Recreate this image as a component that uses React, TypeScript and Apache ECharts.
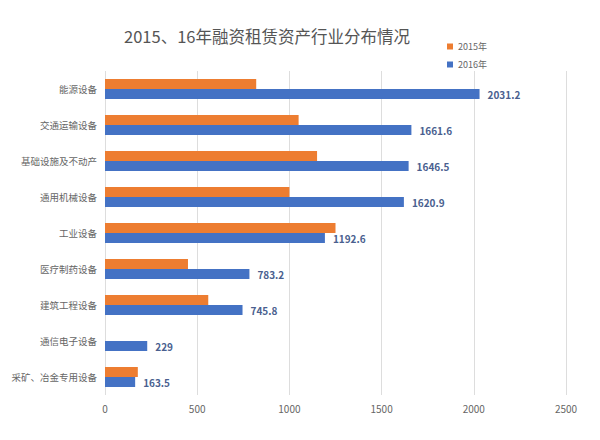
import React, { useEffect, useRef } from "react";
import * as echarts from "echarts";

const categories = [
  "能源设备",
  "交通运输设备",
  "基础设施及不动产",
  "通用机械设备",
  "工业设备",
  "医疗制药设备",
  "建筑工程设备",
  "通信电子设备",
  "采矿、冶金专用设备",
];
const values2015: (number | null)[] = [820, 1050, 1150, 1000, 1250, 450, 560, null, 178];
const values2016 = [2031.2, 1661.6, 1646.5, 1620.9, 1192.6, 783.2, 745.8, 229, 163.5];
const xTicks = [0, 500, 1000, 1500, 2000, 2500];

const FONT = "'Noto Sans CJK SC', 'Noto Sans', sans-serif";

export default function App() {
  const ref = useRef<HTMLDivElement>(null);
  useEffect(() => {
    if (!ref.current) return;
    const chart = echarts.init(ref.current, null, { renderer: "svg" });
    chart.setOption({
      animation: false,
      backgroundColor: "#ffffff",
      textStyle: { fontFamily: FONT },
      title: {
        text: "2015、16年融资租赁资产行业分布情况",
        left: 254,
        textAlign: "center",
        top: 15,
        textStyle: { fontSize: 16.5, fontWeight: "normal", color: "#555555", fontFamily: FONT },
      },
      legend: {
        orient: "vertical",
        left: 434,
        top: 29,
        itemWidth: 6,
        itemHeight: 6,
        itemGap: 9,
        icon: "rect",
        textStyle: { fontSize: 9, color: "#666666", fontFamily: FONT },
        data: ["2015年", "2016年"],
      },
      grid: { left: 97, right: 26, top: 63, bottom: 37, containLabel: false },
      xAxis: {
        type: "value",
        min: xTicks[0],
        max: xTicks[xTicks.length - 1],
        interval: 500,
        axisLine: { show: false },
        axisTick: { show: false },
        axisLabel: {
          color: "#666666",
          fontSize: 10,
          margin: 8,
          fontFamily: FONT,
          formatter: (v: number) => String(v),
        },
        splitLine: { show: true, lineStyle: { color: "#dddddd", width: 1 } },
      },
      yAxis: {
        type: "category",
        inverse: true,
        data: categories,
        axisLine: { show: false },
        axisTick: { show: false },
        axisLabel: { color: "#666666", fontSize: 9.5, margin: 8, fontFamily: FONT },
      },
      series: [
        {
          name: "2015年",
          type: "bar",
          data: values2015,
          barWidth: 10,
          barGap: "0%",
          itemStyle: { color: "#ED7D31" },
        },
        {
          name: "2016年",
          type: "bar",
          data: values2016,
          barWidth: 10,
          barGap: "0%",
          itemStyle: { color: "#4472C4" },
          label: {
            show: true,
            position: "right",
            distance: 8,
            color: "#4a5f8f",
            fontSize: 10,
            fontWeight: "bold",
            fontFamily: FONT,
          },
        },
      ],
    });
    return () => chart.dispose();
  }, []);
  return <div ref={ref} style={{ width: 584, height: 424 }} />;
}
